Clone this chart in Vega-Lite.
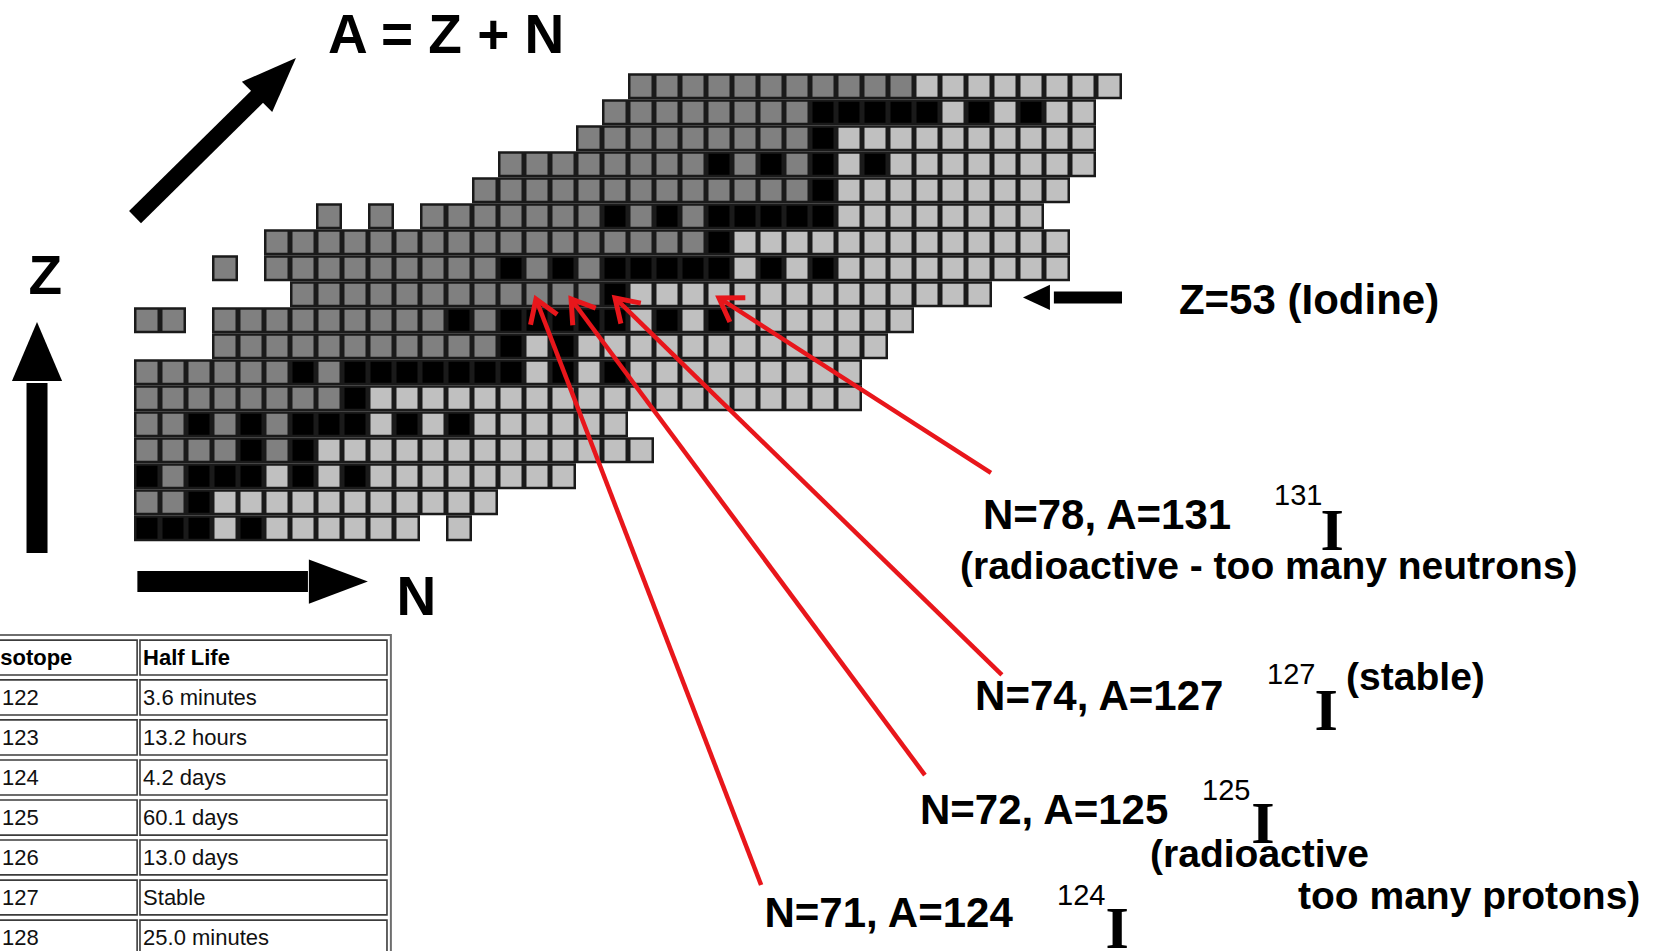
{
"$schema": "https://vega.github.io/schema/vega-lite/v6.json",
"width": 1658, "height": 951,
"autosize": {"type": "none"},
"padding": 0,
"background": "white",
"config": {"view": {"stroke": null}, "axis": {"disable": true}},
"datasets": {
"cells": [
{"N":75,"Z":61,"t":"p"},{"N":76,"Z":61,"t":"p"},{"N":77,"Z":61,"t":"p"},{"N":78,"Z":61,"t":"p"},{"N":79,"Z":61,"t":"p"},{"N":80,"Z":61,"t":"p"},{"N":81,"Z":61,"t":"p"},{"N":82,"Z":61,"t":"p"},{"N":83,"Z":61,"t":"p"},{"N":84,"Z":61,"t":"p"},{"N":85,"Z":61,"t":"p"},
{"N":86,"Z":61,"t":"n"},{"N":87,"Z":61,"t":"n"},{"N":88,"Z":61,"t":"n"},{"N":89,"Z":61,"t":"n"},{"N":90,"Z":61,"t":"n"},{"N":91,"Z":61,"t":"n"},{"N":92,"Z":61,"t":"n"},{"N":93,"Z":61,"t":"n"},
{"N":74,"Z":60,"t":"p"},{"N":75,"Z":60,"t":"p"},{"N":76,"Z":60,"t":"p"},{"N":77,"Z":60,"t":"p"},{"N":78,"Z":60,"t":"p"},{"N":79,"Z":60,"t":"p"},{"N":80,"Z":60,"t":"p"},{"N":81,"Z":60,"t":"p"},
{"N":82,"Z":60,"t":"s"},{"N":83,"Z":60,"t":"s"},{"N":84,"Z":60,"t":"s"},{"N":85,"Z":60,"t":"s"},{"N":86,"Z":60,"t":"s"},{"N":87,"Z":60,"t":"n"},{"N":88,"Z":60,"t":"s"},{"N":89,"Z":60,"t":"n"},{"N":90,"Z":60,"t":"s"},{"N":91,"Z":60,"t":"n"},{"N":92,"Z":60,"t":"n"},
{"N":73,"Z":59,"t":"p"},{"N":74,"Z":59,"t":"p"},{"N":75,"Z":59,"t":"p"},{"N":76,"Z":59,"t":"p"},{"N":77,"Z":59,"t":"p"},{"N":78,"Z":59,"t":"p"},{"N":79,"Z":59,"t":"p"},{"N":80,"Z":59,"t":"p"},{"N":81,"Z":59,"t":"p"},{"N":82,"Z":59,"t":"s"},
{"N":83,"Z":59,"t":"n"},{"N":84,"Z":59,"t":"n"},{"N":85,"Z":59,"t":"n"},{"N":86,"Z":59,"t":"n"},{"N":87,"Z":59,"t":"n"},{"N":88,"Z":59,"t":"n"},{"N":89,"Z":59,"t":"n"},{"N":90,"Z":59,"t":"n"},{"N":91,"Z":59,"t":"n"},{"N":92,"Z":59,"t":"n"},
{"N":70,"Z":58,"t":"p"},{"N":71,"Z":58,"t":"p"},{"N":72,"Z":58,"t":"p"},{"N":73,"Z":58,"t":"p"},{"N":74,"Z":58,"t":"p"},{"N":75,"Z":58,"t":"p"},{"N":76,"Z":58,"t":"p"},{"N":77,"Z":58,"t":"p"},{"N":78,"Z":58,"t":"s"},{"N":79,"Z":58,"t":"p"},{"N":80,"Z":58,"t":"s"},{"N":81,"Z":58,"t":"p"},{"N":82,"Z":58,"t":"s"},{"N":83,"Z":58,"t":"n"},{"N":84,"Z":58,"t":"s"},
{"N":85,"Z":58,"t":"n"},{"N":86,"Z":58,"t":"n"},{"N":87,"Z":58,"t":"n"},{"N":88,"Z":58,"t":"n"},{"N":89,"Z":58,"t":"n"},{"N":90,"Z":58,"t":"n"},{"N":91,"Z":58,"t":"n"},{"N":92,"Z":58,"t":"n"},
{"N":69,"Z":57,"t":"p"},{"N":70,"Z":57,"t":"p"},{"N":71,"Z":57,"t":"p"},{"N":72,"Z":57,"t":"p"},{"N":73,"Z":57,"t":"p"},{"N":74,"Z":57,"t":"p"},{"N":75,"Z":57,"t":"p"},{"N":76,"Z":57,"t":"p"},{"N":77,"Z":57,"t":"p"},{"N":78,"Z":57,"t":"p"},{"N":79,"Z":57,"t":"p"},{"N":80,"Z":57,"t":"p"},{"N":81,"Z":57,"t":"p"},{"N":82,"Z":57,"t":"s"},
{"N":83,"Z":57,"t":"n"},{"N":84,"Z":57,"t":"n"},{"N":85,"Z":57,"t":"n"},{"N":86,"Z":57,"t":"n"},{"N":87,"Z":57,"t":"n"},{"N":88,"Z":57,"t":"n"},{"N":89,"Z":57,"t":"n"},{"N":90,"Z":57,"t":"n"},{"N":91,"Z":57,"t":"n"},
{"N":63,"Z":56,"t":"p"},{"N":65,"Z":56,"t":"p"},{"N":67,"Z":56,"t":"p"},{"N":68,"Z":56,"t":"p"},{"N":69,"Z":56,"t":"p"},{"N":70,"Z":56,"t":"p"},{"N":71,"Z":56,"t":"p"},{"N":72,"Z":56,"t":"p"},{"N":73,"Z":56,"t":"p"},{"N":74,"Z":56,"t":"s"},{"N":75,"Z":56,"t":"p"},{"N":76,"Z":56,"t":"s"},{"N":77,"Z":56,"t":"p"},
{"N":78,"Z":56,"t":"s"},{"N":79,"Z":56,"t":"s"},{"N":80,"Z":56,"t":"s"},{"N":81,"Z":56,"t":"s"},{"N":82,"Z":56,"t":"s"},{"N":83,"Z":56,"t":"n"},{"N":84,"Z":56,"t":"n"},{"N":85,"Z":56,"t":"n"},{"N":86,"Z":56,"t":"n"},{"N":87,"Z":56,"t":"n"},{"N":88,"Z":56,"t":"n"},{"N":89,"Z":56,"t":"n"},{"N":90,"Z":56,"t":"n"},
{"N":61,"Z":55,"t":"p"},{"N":62,"Z":55,"t":"p"},{"N":63,"Z":55,"t":"p"},{"N":64,"Z":55,"t":"p"},{"N":65,"Z":55,"t":"p"},{"N":66,"Z":55,"t":"p"},{"N":67,"Z":55,"t":"p"},{"N":68,"Z":55,"t":"p"},{"N":69,"Z":55,"t":"p"},{"N":70,"Z":55,"t":"p"},{"N":71,"Z":55,"t":"p"},{"N":72,"Z":55,"t":"p"},{"N":73,"Z":55,"t":"p"},{"N":74,"Z":55,"t":"p"},{"N":75,"Z":55,"t":"p"},{"N":76,"Z":55,"t":"p"},{"N":77,"Z":55,"t":"p"},{"N":78,"Z":55,"t":"s"},
{"N":79,"Z":55,"t":"n"},{"N":80,"Z":55,"t":"n"},{"N":81,"Z":55,"t":"n"},{"N":82,"Z":55,"t":"n"},{"N":83,"Z":55,"t":"n"},{"N":84,"Z":55,"t":"n"},{"N":85,"Z":55,"t":"n"},{"N":86,"Z":55,"t":"n"},{"N":87,"Z":55,"t":"n"},{"N":88,"Z":55,"t":"n"},{"N":89,"Z":55,"t":"n"},{"N":90,"Z":55,"t":"n"},{"N":91,"Z":55,"t":"n"},
{"N":59,"Z":54,"t":"p"},{"N":61,"Z":54,"t":"p"},{"N":62,"Z":54,"t":"p"},{"N":63,"Z":54,"t":"p"},{"N":64,"Z":54,"t":"p"},{"N":65,"Z":54,"t":"p"},{"N":66,"Z":54,"t":"p"},{"N":67,"Z":54,"t":"p"},{"N":68,"Z":54,"t":"p"},{"N":69,"Z":54,"t":"p"},{"N":70,"Z":54,"t":"s"},{"N":71,"Z":54,"t":"p"},{"N":72,"Z":54,"t":"s"},{"N":73,"Z":54,"t":"p"},
{"N":74,"Z":54,"t":"s"},{"N":75,"Z":54,"t":"s"},{"N":76,"Z":54,"t":"s"},{"N":77,"Z":54,"t":"s"},{"N":78,"Z":54,"t":"s"},{"N":79,"Z":54,"t":"n"},{"N":80,"Z":54,"t":"s"},{"N":81,"Z":54,"t":"n"},{"N":82,"Z":54,"t":"s"},
{"N":83,"Z":54,"t":"n"},{"N":84,"Z":54,"t":"n"},{"N":85,"Z":54,"t":"n"},{"N":86,"Z":54,"t":"n"},{"N":87,"Z":54,"t":"n"},{"N":88,"Z":54,"t":"n"},{"N":89,"Z":54,"t":"n"},{"N":90,"Z":54,"t":"n"},{"N":91,"Z":54,"t":"n"},
{"N":62,"Z":53,"t":"p"},{"N":63,"Z":53,"t":"p"},{"N":64,"Z":53,"t":"p"},{"N":65,"Z":53,"t":"p"},{"N":66,"Z":53,"t":"p"},{"N":67,"Z":53,"t":"p"},{"N":68,"Z":53,"t":"p"},{"N":69,"Z":53,"t":"p"},{"N":70,"Z":53,"t":"p"},{"N":71,"Z":53,"t":"p"},{"N":72,"Z":53,"t":"p"},{"N":73,"Z":53,"t":"p"},{"N":74,"Z":53,"t":"s"},
{"N":75,"Z":53,"t":"n"},{"N":76,"Z":53,"t":"n"},{"N":77,"Z":53,"t":"n"},{"N":78,"Z":53,"t":"n"},{"N":79,"Z":53,"t":"n"},{"N":80,"Z":53,"t":"n"},{"N":81,"Z":53,"t":"n"},{"N":82,"Z":53,"t":"n"},{"N":83,"Z":53,"t":"n"},{"N":84,"Z":53,"t":"n"},{"N":85,"Z":53,"t":"n"},{"N":86,"Z":53,"t":"n"},{"N":87,"Z":53,"t":"n"},{"N":88,"Z":53,"t":"n"},
{"N":56,"Z":52,"t":"p"},{"N":57,"Z":52,"t":"p"},{"N":59,"Z":52,"t":"p"},{"N":60,"Z":52,"t":"p"},{"N":61,"Z":52,"t":"p"},{"N":62,"Z":52,"t":"p"},{"N":63,"Z":52,"t":"p"},{"N":64,"Z":52,"t":"p"},{"N":65,"Z":52,"t":"p"},{"N":66,"Z":52,"t":"p"},{"N":67,"Z":52,"t":"p"},{"N":68,"Z":52,"t":"s"},{"N":69,"Z":52,"t":"p"},
{"N":70,"Z":52,"t":"s"},{"N":71,"Z":52,"t":"s"},{"N":72,"Z":52,"t":"s"},{"N":73,"Z":52,"t":"s"},{"N":74,"Z":52,"t":"s"},{"N":75,"Z":52,"t":"n"},{"N":76,"Z":52,"t":"s"},{"N":77,"Z":52,"t":"n"},{"N":78,"Z":52,"t":"s"},
{"N":79,"Z":52,"t":"n"},{"N":80,"Z":52,"t":"n"},{"N":81,"Z":52,"t":"n"},{"N":82,"Z":52,"t":"n"},{"N":83,"Z":52,"t":"n"},{"N":84,"Z":52,"t":"n"},{"N":85,"Z":52,"t":"n"},
{"N":59,"Z":51,"t":"p"},{"N":60,"Z":51,"t":"p"},{"N":61,"Z":51,"t":"p"},{"N":62,"Z":51,"t":"p"},{"N":63,"Z":51,"t":"p"},{"N":64,"Z":51,"t":"p"},{"N":65,"Z":51,"t":"p"},{"N":66,"Z":51,"t":"p"},{"N":67,"Z":51,"t":"p"},{"N":68,"Z":51,"t":"p"},{"N":69,"Z":51,"t":"p"},{"N":70,"Z":51,"t":"s"},{"N":71,"Z":51,"t":"n"},{"N":72,"Z":51,"t":"s"},
{"N":73,"Z":51,"t":"n"},{"N":74,"Z":51,"t":"n"},{"N":75,"Z":51,"t":"n"},{"N":76,"Z":51,"t":"n"},{"N":77,"Z":51,"t":"n"},{"N":78,"Z":51,"t":"n"},{"N":79,"Z":51,"t":"n"},{"N":80,"Z":51,"t":"n"},{"N":81,"Z":51,"t":"n"},{"N":82,"Z":51,"t":"n"},{"N":83,"Z":51,"t":"n"},{"N":84,"Z":51,"t":"n"},
{"N":56,"Z":50,"t":"p"},{"N":57,"Z":50,"t":"p"},{"N":58,"Z":50,"t":"p"},{"N":59,"Z":50,"t":"p"},{"N":60,"Z":50,"t":"p"},{"N":61,"Z":50,"t":"p"},{"N":62,"Z":50,"t":"s"},{"N":63,"Z":50,"t":"p"},{"N":64,"Z":50,"t":"s"},{"N":65,"Z":50,"t":"s"},{"N":66,"Z":50,"t":"s"},{"N":67,"Z":50,"t":"s"},{"N":68,"Z":50,"t":"s"},{"N":69,"Z":50,"t":"s"},{"N":70,"Z":50,"t":"s"},
{"N":71,"Z":50,"t":"n"},{"N":72,"Z":50,"t":"s"},{"N":73,"Z":50,"t":"n"},{"N":74,"Z":50,"t":"s"},{"N":75,"Z":50,"t":"n"},{"N":76,"Z":50,"t":"n"},{"N":77,"Z":50,"t":"n"},{"N":78,"Z":50,"t":"n"},{"N":79,"Z":50,"t":"n"},{"N":80,"Z":50,"t":"n"},{"N":81,"Z":50,"t":"n"},{"N":82,"Z":50,"t":"n"},{"N":83,"Z":50,"t":"n"},
{"N":56,"Z":49,"t":"p"},{"N":57,"Z":49,"t":"p"},{"N":58,"Z":49,"t":"p"},{"N":59,"Z":49,"t":"p"},{"N":60,"Z":49,"t":"p"},{"N":61,"Z":49,"t":"p"},{"N":62,"Z":49,"t":"p"},{"N":63,"Z":49,"t":"p"},{"N":64,"Z":49,"t":"s"},
{"N":65,"Z":49,"t":"n"},{"N":66,"Z":49,"t":"n"},{"N":67,"Z":49,"t":"n"},{"N":68,"Z":49,"t":"n"},{"N":69,"Z":49,"t":"n"},{"N":70,"Z":49,"t":"n"},{"N":71,"Z":49,"t":"n"},{"N":72,"Z":49,"t":"n"},{"N":73,"Z":49,"t":"n"},{"N":74,"Z":49,"t":"n"},{"N":75,"Z":49,"t":"n"},{"N":76,"Z":49,"t":"n"},{"N":77,"Z":49,"t":"n"},{"N":78,"Z":49,"t":"n"},{"N":79,"Z":49,"t":"n"},{"N":80,"Z":49,"t":"n"},{"N":81,"Z":49,"t":"n"},{"N":82,"Z":49,"t":"n"},{"N":83,"Z":49,"t":"n"},
{"N":56,"Z":48,"t":"p"},{"N":57,"Z":48,"t":"p"},{"N":58,"Z":48,"t":"s"},{"N":59,"Z":48,"t":"p"},{"N":60,"Z":48,"t":"s"},{"N":61,"Z":48,"t":"p"},{"N":62,"Z":48,"t":"s"},{"N":63,"Z":48,"t":"s"},{"N":64,"Z":48,"t":"s"},{"N":65,"Z":48,"t":"n"},{"N":66,"Z":48,"t":"s"},{"N":67,"Z":48,"t":"n"},{"N":68,"Z":48,"t":"s"},
{"N":69,"Z":48,"t":"n"},{"N":70,"Z":48,"t":"n"},{"N":71,"Z":48,"t":"n"},{"N":72,"Z":48,"t":"n"},{"N":73,"Z":48,"t":"n"},{"N":74,"Z":48,"t":"n"},
{"N":56,"Z":47,"t":"p"},{"N":57,"Z":47,"t":"p"},{"N":58,"Z":47,"t":"p"},{"N":59,"Z":47,"t":"p"},{"N":60,"Z":47,"t":"s"},{"N":61,"Z":47,"t":"p"},{"N":62,"Z":47,"t":"s"},
{"N":63,"Z":47,"t":"n"},{"N":64,"Z":47,"t":"n"},{"N":65,"Z":47,"t":"n"},{"N":66,"Z":47,"t":"n"},{"N":67,"Z":47,"t":"n"},{"N":68,"Z":47,"t":"n"},{"N":69,"Z":47,"t":"n"},{"N":70,"Z":47,"t":"n"},{"N":71,"Z":47,"t":"n"},{"N":72,"Z":47,"t":"n"},{"N":73,"Z":47,"t":"n"},{"N":74,"Z":47,"t":"n"},{"N":75,"Z":47,"t":"n"},
{"N":56,"Z":46,"t":"s"},{"N":57,"Z":46,"t":"p"},{"N":58,"Z":46,"t":"s"},{"N":59,"Z":46,"t":"s"},{"N":60,"Z":46,"t":"s"},{"N":61,"Z":46,"t":"n"},{"N":62,"Z":46,"t":"s"},{"N":63,"Z":46,"t":"n"},{"N":64,"Z":46,"t":"s"},
{"N":65,"Z":46,"t":"n"},{"N":66,"Z":46,"t":"n"},{"N":67,"Z":46,"t":"n"},{"N":68,"Z":46,"t":"n"},{"N":69,"Z":46,"t":"n"},{"N":70,"Z":46,"t":"n"},{"N":71,"Z":46,"t":"n"},{"N":72,"Z":46,"t":"n"},
{"N":56,"Z":45,"t":"p"},{"N":57,"Z":45,"t":"p"},{"N":58,"Z":45,"t":"s"},{"N":59,"Z":45,"t":"n"},{"N":60,"Z":45,"t":"n"},{"N":61,"Z":45,"t":"n"},{"N":62,"Z":45,"t":"n"},{"N":63,"Z":45,"t":"n"},{"N":64,"Z":45,"t":"n"},{"N":65,"Z":45,"t":"n"},{"N":66,"Z":45,"t":"n"},{"N":67,"Z":45,"t":"n"},{"N":68,"Z":45,"t":"n"},{"N":69,"Z":45,"t":"n"},
{"N":56,"Z":44,"t":"s"},{"N":57,"Z":44,"t":"s"},{"N":58,"Z":44,"t":"s"},{"N":59,"Z":44,"t":"n"},{"N":60,"Z":44,"t":"s"},{"N":61,"Z":44,"t":"n"},{"N":62,"Z":44,"t":"n"},{"N":63,"Z":44,"t":"n"},{"N":64,"Z":44,"t":"n"},{"N":65,"Z":44,"t":"n"},{"N":66,"Z":44,"t":"n"},{"N":68,"Z":44,"t":"n"}
],
"shafts": [
{"k":"diag","N":55.54,"Z":55.97,"N2":60.42,"Z2":60.78},
{"k":"zarrow","N":51.77,"Z":43.05,"N2":51.77,"Z2":49.59},
{"k":"narrow","N":55.63,"Z":41.95,"N2":62.19,"Z2":41.95},
{"k":"iodine","N":93.5,"Z":52.88,"N2":90.88,"Z2":52.88}
],
"heads": [
{"k":"diag","N":60.98,"Z":61.34},
{"k":"zarrow","N":51.77,"Z":50.8},
{"k":"narrow","N":63.36,"Z":41.95},
{"k":"iodine","N":90.21,"Z":52.88}
],
"red": [
{"k":"I124","N":70.96,"Z":52.82,"N2":79.62,"Z2":30.28},
{"k":"I125","N":72.31,"Z":52.82,"N2":85.92,"Z2":34.51},
{"k":"I127","N":74.0,"Z":52.86,"N2":88.88,"Z2":38.36},
{"k":"I131","N":78.0,"Z":52.86,"N2":88.46,"Z2":46.13}
],
"tcells": [
{"N":50.15,"N2":55.62,"Z":39.70,"Z2":38.36},{"N":55.73,"N2":65.23,"Z":39.70,"Z2":38.36},
{"N":50.15,"N2":55.62,"Z":38.17,"Z2":36.82},{"N":55.73,"N2":65.23,"Z":38.17,"Z2":36.82},
{"N":50.15,"N2":55.62,"Z":36.63,"Z2":35.28},{"N":55.73,"N2":65.23,"Z":36.63,"Z2":35.28},
{"N":50.15,"N2":55.62,"Z":35.09,"Z2":33.74},{"N":55.73,"N2":65.23,"Z":35.09,"Z2":33.74},
{"N":50.15,"N2":55.62,"Z":33.55,"Z2":32.20},{"N":55.73,"N2":65.23,"Z":33.55,"Z2":32.20},
{"N":50.15,"N2":55.62,"Z":32.01,"Z2":30.67},{"N":55.73,"N2":65.23,"Z":32.01,"Z2":30.67},
{"N":50.15,"N2":55.62,"Z":30.47,"Z2":29.13},{"N":55.73,"N2":65.23,"Z":30.47,"Z2":29.13},
{"N":50.15,"N2":55.62,"Z":28.93,"Z2":27.59},{"N":55.73,"N2":65.23,"Z":28.93,"Z2":27.59}
],
"touter": [{"N":50.15,"N2":65.38,"Z":39.90,"Z2":27.40}],
"txt": [
{"g":"big","label":"A = Z + N","N":62.96,"Z":62.28},
{"g":"big","label":"Z","N":51.44,"Z":53.01},
{"g":"big","label":"N","N":65.60,"Z":40.65},
{"g":"lab","label":"Z=53 (Iodine)","N":95.69,"Z":52.24},
{"g":"lab","label":"N=78, A=131","N":88.15,"Z":43.97},
{"g":"lab","label":"N=74, A=127","N":87.85,"Z":37.03},
{"g":"lab","label":"N=72, A=125","N":85.73,"Z":32.64},
{"g":"lab","label":"N=71, A=124","N":79.75,"Z":28.67},
{"g":"sub","label":"(radioactive - too many neutrons)","N":87.27,"Z":42.05},
{"g":"sub","label":"(stable)","N":102.12,"Z":37.78},
{"g":"sub","label":"(radioactive","N":94.58,"Z":30.97},
{"g":"sub","label":"too many protons)","N":100.27,"Z":29.36},
{"g":"sup","label":"131","N":99.35,"Z":44.88},
{"g":"sup","label":"127","N":99.08,"Z":38.01},
{"g":"sup","label":"125","N":96.58,"Z":33.55},
{"g":"sup","label":"124","N":91.0,"Z":29.51},
{"g":"iso","label":"I","N":101.58,"Z":43.17},
{"g":"iso","label":"I","N":101.35,"Z":36.26},
{"g":"iso","label":"I","N":98.92,"Z":31.91},
{"g":"iso","label":"I","N":93.31,"Z":27.84},
{"g":"th","label":"Isotope","N":50.12,"Z":38.74},
{"g":"th","label":"Half Life","N":55.85,"Z":38.74},
{"g":"td","label":"122","N":50.42,"Z":37.20},{"g":"td","label":"3.6 minutes","N":55.85,"Z":37.20},
{"g":"td","label":"123","N":50.42,"Z":35.67},{"g":"td","label":"13.2 hours","N":55.85,"Z":35.67},
{"g":"td","label":"124","N":50.42,"Z":34.13},{"g":"td","label":"4.2 days","N":55.85,"Z":34.13},
{"g":"td","label":"125","N":50.42,"Z":32.59},{"g":"td","label":"60.1 days","N":55.85,"Z":32.59},
{"g":"td","label":"126","N":50.42,"Z":31.05},{"g":"td","label":"13.0 days","N":55.85,"Z":31.05},
{"g":"td","label":"127","N":50.42,"Z":29.51},{"g":"td","label":"Stable","N":55.85,"Z":29.51},
{"g":"td","label":"128","N":50.42,"Z":27.97},{"g":"td","label":"25.0 minutes","N":55.85,"Z":27.97}
]
},
"encoding": {
"x": {"field": "N", "type": "quantitative", "scale": {"domain": [50.3462, 114.1154], "nice": false, "zero": false}, "axis": null},
"y": {"field": "Z", "type": "quantitative", "scale": {"domain": [27.7423, 64.3192], "nice": false, "zero": false}, "axis": null}
},
"layer": [
{"data": {"name": "touter"}, "mark": {"type": "rect", "fill": "white", "stroke": "#6e6e6e", "strokeWidth": 2}, "encoding": {"x2": {"field": "N2"}, "y2": {"field": "Z2"}}},
{"data": {"name": "tcells"}, "mark": {"type": "rect", "fill": "white", "stroke": "#3c3c3c", "strokeWidth": 1.6}, "encoding": {"x2": {"field": "N2"}, "y2": {"field": "Z2"}}},
{"data": {"name": "txt"}, "transform": [{"filter": "datum.g == 'th'"}], "mark": {"type": "text", "align": "left", "baseline": "alphabetic", "font": "Liberation Sans", "fontWeight": "bold", "fontSize": 22, "color": "#000"}, "encoding": {"text": {"field": "label"}}},
{"data": {"name": "txt"}, "transform": [{"filter": "datum.g == 'td'"}], "mark": {"type": "text", "align": "left", "baseline": "alphabetic", "font": "Liberation Sans", "fontSize": 22, "color": "#111"}, "encoding": {"text": {"field": "label"}}},
{"data": {"name": "cells"}, "mark": {"type": "point", "shape": "square", "filled": true, "size": 552, "stroke": "#1a1a1a", "strokeWidth": 2.5, "opacity": 1},
 "encoding": {"color": {"field": "t", "type": "nominal", "scale": {"domain": ["p", "s", "n"], "range": ["#808080", "#000000", "#c0c0c0"]}, "legend": null}}},
{"data": {"name": "shafts"}, "transform": [{"filter": "datum.k == 'diag'"}], "mark": {"type": "rule", "color": "#000", "strokeWidth": 17, "strokeCap": "butt"}, "encoding": {"x2": {"field": "N2"}, "y2": {"field": "Z2"}}},
{"data": {"name": "shafts"}, "transform": [{"filter": "datum.k == 'zarrow' || datum.k == 'narrow'"}], "mark": {"type": "rule", "color": "#000", "strokeWidth": 21, "strokeCap": "butt"}, "encoding": {"x2": {"field": "N2"}, "y2": {"field": "Z2"}}},
{"data": {"name": "shafts"}, "transform": [{"filter": "datum.k == 'iodine'"}], "mark": {"type": "rule", "color": "#000", "strokeWidth": 12, "strokeCap": "butt"}, "encoding": {"x2": {"field": "N2"}, "y2": {"field": "Z2"}}},
{"data": {"name": "heads"}, "transform": [{"filter": "datum.k == 'diag'"}], "mark": {"type": "point", "shape": "M0,-1L0.78,1L-0.78,1Z", "size": 3025, "angle": 45, "filled": true, "color": "#000", "opacity": 1}, "encoding": {}},
{"data": {"name": "heads"}, "transform": [{"filter": "datum.k == 'zarrow'"}], "mark": {"type": "point", "shape": "M0,-1L0.85,1L-0.85,1Z", "size": 3481, "angle": 0, "filled": true, "color": "#000", "opacity": 1}, "encoding": {}},
{"data": {"name": "heads"}, "transform": [{"filter": "datum.k == 'narrow'"}], "mark": {"type": "point", "shape": "M0,-1L0.75,1L-0.75,1Z", "size": 3481, "angle": 90, "filled": true, "color": "#000", "opacity": 1}, "encoding": {}},
{"data": {"name": "heads"}, "transform": [{"filter": "datum.k == 'iodine'"}], "mark": {"type": "point", "shape": "M0,-1L0.93,1L-0.93,1Z", "size": 729, "angle": 270, "filled": true, "color": "#000", "opacity": 1}, "encoding": {}},
{"data": {"name": "red"}, "mark": {"type": "rule", "color": "#e8161b", "strokeWidth": 4.5, "strokeCap": "butt"}, "encoding": {"x2": {"field": "N2"}, "y2": {"field": "Z2"}}},
{"data": {"name": "red"}, "transform": [{"filter": "datum.k == 'I124'"}], "mark": {"type": "point", "shape": "M-0.55,0.85L0,0L0.55,0.85", "size": 2704, "angle": -21, "filled": false, "stroke": "#e8161b", "strokeWidth": 5, "opacity": 1}, "encoding": {}},
{"data": {"name": "red"}, "transform": [{"filter": "datum.k == 'I125'"}], "mark": {"type": "point", "shape": "M-0.55,0.85L0,0L0.55,0.85", "size": 2704, "angle": -36.6, "filled": false, "stroke": "#e8161b", "strokeWidth": 5, "opacity": 1}, "encoding": {}},
{"data": {"name": "red"}, "transform": [{"filter": "datum.k == 'I127'"}], "mark": {"type": "point", "shape": "M-0.55,0.85L0,0L0.55,0.85", "size": 2704, "angle": -45.8, "filled": false, "stroke": "#e8161b", "strokeWidth": 5, "opacity": 1}, "encoding": {}},
{"data": {"name": "red"}, "transform": [{"filter": "datum.k == 'I131'"}], "mark": {"type": "point", "shape": "M-0.55,0.85L0,0L0.55,0.85", "size": 2704, "angle": -57.3, "filled": false, "stroke": "#e8161b", "strokeWidth": 5, "opacity": 1}, "encoding": {}},
{"data": {"name": "txt"}, "transform": [{"filter": "datum.g == 'big'"}], "mark": {"type": "text", "align": "left", "baseline": "alphabetic", "font": "Liberation Sans", "fontWeight": "bold", "fontSize": 55, "color": "#000"}, "encoding": {"text": {"field": "label"}}},
{"data": {"name": "txt"}, "transform": [{"filter": "datum.g == 'lab'"}], "mark": {"type": "text", "align": "left", "baseline": "alphabetic", "font": "Liberation Sans", "fontWeight": "bold", "fontSize": 42, "color": "#000"}, "encoding": {"text": {"field": "label"}}},
{"data": {"name": "txt"}, "transform": [{"filter": "datum.g == 'sub'"}], "mark": {"type": "text", "align": "left", "baseline": "alphabetic", "font": "Liberation Sans", "fontWeight": "bold", "fontSize": 39, "color": "#000"}, "encoding": {"text": {"field": "label"}}},
{"data": {"name": "txt"}, "transform": [{"filter": "datum.g == 'sup'"}], "mark": {"type": "text", "align": "left", "baseline": "alphabetic", "font": "Liberation Sans", "fontSize": 29, "color": "#000"}, "encoding": {"text": {"field": "label"}}},
{"data": {"name": "txt"}, "transform": [{"filter": "datum.g == 'iso'"}], "mark": {"type": "text", "align": "center", "baseline": "alphabetic", "font": "Liberation Serif", "fontWeight": "bold", "fontSize": 60, "color": "#000"}, "encoding": {"text": {"field": "label"}}}
]
}
